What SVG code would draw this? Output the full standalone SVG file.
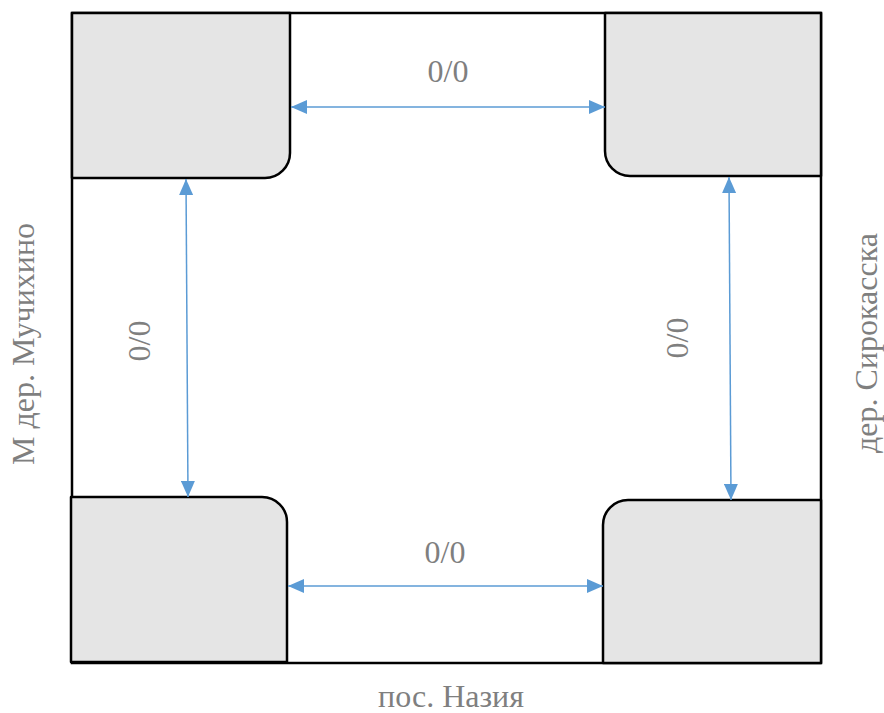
<svg xmlns="http://www.w3.org/2000/svg" width="884" height="713" viewBox="0 0 884 713">
<style>
.blk{fill:#e5e5e5;stroke:#000;stroke-width:2.5;stroke-linejoin:round}
.frame{fill:#fff;stroke:#000;stroke-width:2.5}
.con{stroke:#5b9bd5;stroke-width:1.5;fill:none;marker-start:url(#ah);marker-end:url(#ah)}
.lbl{font-family:'Liberation Serif','Times New Roman',serif;font-size:32px;fill:#7f7f7f;text-anchor:middle}
</style>
<defs>
<marker id="ah" markerUnits="userSpaceOnUse" markerWidth="16" markerHeight="14" refX="16" refY="7" orient="auto-start-reverse" viewBox="0 0 16 14">
<path d="M0,0 L16,7 L0,14 Z" fill="#5b9bd5"/>
</marker>
</defs>
<rect id="frame" class="frame" x="72" y="13" width="749" height="650"/>
<g id="node-tl"><path class="blk" d="M72,13 H290 V153 A25,25 0 0 1 265,178 H72 Z"/></g>
<g id="node-tr"><path class="blk" d="M605,13 H821 V176 H630 A25,25 0 0 1 605,151 Z"/></g>
<g id="node-bl"><path class="blk" d="M71,497 H262 A25,25 0 0 1 287,522 V662 H71 Z"/></g>
<g id="node-br"><path class="blk" d="M628,500 H821 V663 H603 V525 A25,25 0 0 1 628,500 Z"/></g>
<g id="connectors">
<line class="con" x1="291" y1="107" x2="605" y2="107"/>
<line class="con" x1="186" y1="179" x2="188" y2="497"/>
<line class="con" x1="729" y1="177" x2="731" y2="500"/>
<line class="con" x1="288" y1="586" x2="603" y2="586"/>
</g>
<g id="labels">
<text class="lbl" x="448" y="82">0/0</text>
<text class="lbl" x="445" y="563">0/0</text>
<text class="lbl" transform="translate(150,341) rotate(-90)">0/0</text>
<text class="lbl" transform="translate(688,338) rotate(-90)">0/0</text>
<text class="lbl" transform="translate(34,344) rotate(-90)">М дер. Мучихино</text>
<text class="lbl" transform="translate(877,343) rotate(-90)">дер. Сирокасска</text>
<text class="lbl" x="451" y="707">пос. Назия</text>
</g>
</svg>
